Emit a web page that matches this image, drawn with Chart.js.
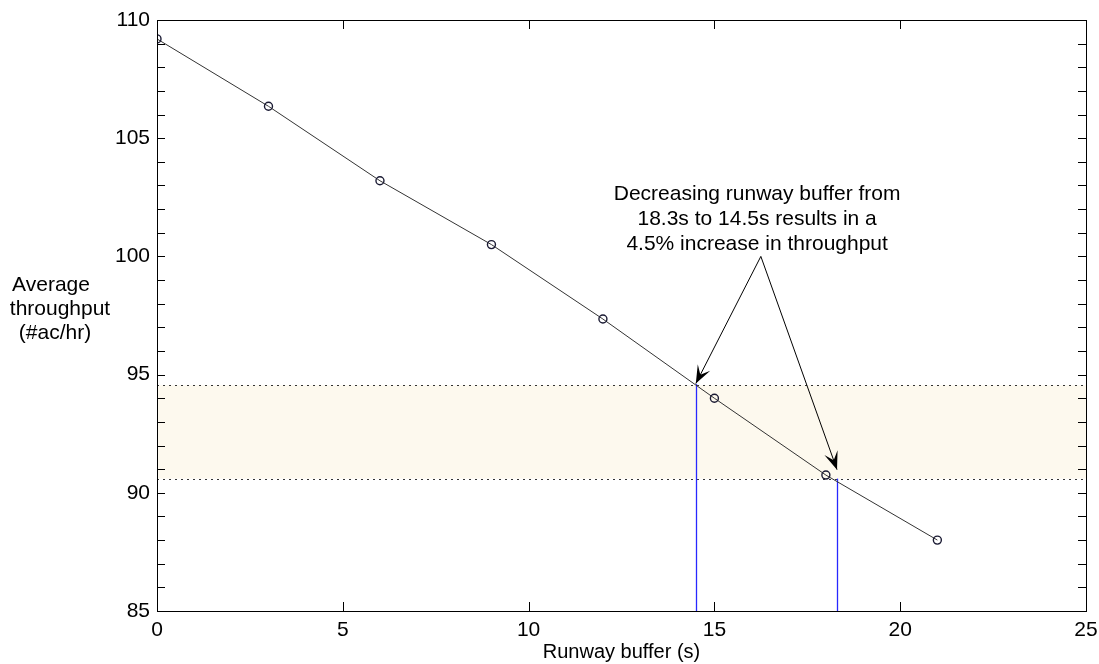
<!DOCTYPE html>
<html>
<head>
<meta charset="utf-8">
<script src="https://cdn.jsdelivr.net/npm/chart.js@4.4.1/dist/chart.umd.min.js"></script>
<style>
  html, body { margin: 0; padding: 0; background: #fff; }
</style>
</head>
<body>
<canvas id="myChart" width="1099" height="664"></canvas>
<script>
// data
var bufferSeconds = [0, 3, 6, 9, 12, 15, 18, 21];
var throughput = [109.2, 106.35, 103.2, 100.5, 97.35, 94.0, 90.75, 88.0];
var bandLow = 90.6;
var bandHigh = 94.55;
var markX = [14.5, 18.3];
var markY = [94.6, 90.6];
var xTicks = [0, 5, 10, 15, 20, 25];
var yTicks = [85, 90, 95, 100, 105, 110];
var noteLines = ['Decreasing runway buffer from', '18.3s to 14.5s results in a', '4.5% increase in throughput'];
var yLabelLines = ['Average', 'throughput', '(#ac/hr)'];

var FONT = '"Liberation Sans", Arial, sans-serif';

function arrow(ctx, x1, y1, x2, y2) {
    ctx.beginPath();
    ctx.moveTo(x1, y1);
    ctx.lineTo(x2, y2);
    ctx.stroke();
    var a = Math.atan2(y2 - y1, x2 - x1);
    var len = 18, w = 7;
    ctx.save();
    ctx.translate(x2, y2);
    ctx.rotate(a);
    ctx.beginPath();
    ctx.moveTo(0, 0);
    ctx.lineTo(-len, -w);
    ctx.lineTo(-len * 0.55, 0);
    ctx.lineTo(-len, w);
    ctx.closePath();
    ctx.fill();
    ctx.restore();
}

//background band, reference lines, frame and annotations
var extras = {
    id: 'extras',
    beforeDatasetsDraw: function(chart) {
        var ctx = chart.ctx, xs = chart.scales.x, ys = chart.scales.y, a = chart.chartArea;
        var yHi = ys.getPixelForValue(bandHigh), yLo = ys.getPixelForValue(bandLow);
        ctx.save();
        ctx.fillStyle = '#fdf9ee';
        ctx.fillRect(a.left, yHi, a.right - a.left, yLo - yHi);
        ctx.strokeStyle = '#333';
        ctx.lineWidth = 1;
        ctx.setLineDash([2, 4]);
        [yHi, yLo].forEach(function(y) {
            ctx.beginPath();
            ctx.moveTo(a.left, Math.round(y) + 0.5);
            ctx.lineTo(a.right, Math.round(y) + 0.5);
            ctx.stroke();
        });
        ctx.setLineDash([]);
        // blue drop lines
        ctx.lineWidth = 1.3;
        for (var i = 0; i < markX.length; i++) {
            var px = Math.round(xs.getPixelForValue(markX[i])) + 0.5;
            ctx.strokeStyle = 'rgb(40,40,255)';
            ctx.beginPath();
            ctx.moveTo(px, a.bottom);
            ctx.lineTo(px, ys.getPixelForValue(markY[i]));
            ctx.stroke();
        }
        ctx.restore();
    },
    afterDatasetsDraw: function(chart) {
        var ctx = chart.ctx, xs = chart.scales.x, ys = chart.scales.y, a = chart.chartArea;
        ctx.save();
        // frame
        ctx.strokeStyle = '#000';
        ctx.lineWidth = 1;
        ctx.strokeRect(a.left + 0.5, a.top + 0.5, a.right - a.left, a.bottom - a.top);
        // x ticks, inside, top and bottom
        ctx.beginPath();
        xTicks.forEach(function(v) {
            var px = Math.round(xs.getPixelForValue(v)) + 0.5;
            ctx.moveTo(px, a.bottom); ctx.lineTo(px, a.bottom - 9);
            ctx.moveTo(px, a.top); ctx.lineTo(px, a.top + 9);
        });
        // y ticks every unit, inside, left and right
        for (var v = 85; v <= 110; v++) {
            var py = Math.round(ys.getPixelForValue(v)) + 0.5;
            ctx.moveTo(a.left, py); ctx.lineTo(a.left + 8, py);
            ctx.moveTo(a.right, py); ctx.lineTo(a.right - 8, py);
        }
        ctx.stroke();

        // annotation text and arrows
        ctx.fillStyle = '#000';
        ctx.font = '21px ' + FONT;
        ctx.textAlign = 'center';
        ctx.textBaseline = 'middle';
        var tx = xs.getPixelForValue(16.15);
        var ty = ys.getPixelForValue(102.65);
        noteLines.forEach(function(s, i) { ctx.fillText(s, tx, ty + i * 25); });
        var ax = xs.getPixelForValue(16.25), ay = ys.getPixelForValue(100.0);
        ctx.strokeStyle = '#000';
        arrow(ctx, ax, ay, xs.getPixelForValue(14.5), ys.getPixelForValue(94.62));
        arrow(ctx, ax, ay, xs.getPixelForValue(18.3), ys.getPixelForValue(90.98));

        // y axis label, horizontal
        var lx = [51, 60, 55];
        yLabelLines.forEach(function(s, i) { ctx.fillText(s, lx[i], 285 + i * 24); });
        ctx.restore();
    }
};

var ctx = document.getElementById('myChart').getContext('2d');
var points = bufferSeconds.map(function(x, i) { return { x: x, y: throughput[i] }; });

var myChart = new Chart(ctx, {
    type: 'scatter',
    data: {
        datasets: [{
            data: points,
            showLine: true,
            borderColor: '#333',
            borderWidth: 1,
            pointRadius: 4,
            pointBorderWidth: 1.4,
            pointBackgroundColor: 'rgba(0,0,0,0)',
            pointBorderColor: '#1a1a33'
        }]
    },
    options: {
        responsive: false,
        animation: false,
        devicePixelRatio: 1,
        layout: { padding: { top: 20, right: 13, left: 0, bottom: 0 } },
        plugins: { legend: { display: false }, tooltip: { enabled: false } },
        scales: {
            x: {
                type: 'linear', min: 0, max: 25,
                grid: { display: false, drawTicks: false },
                border: { display: false },
                ticks: { stepSize: 5, color: '#000', font: { size: 21, family: FONT }, padding: 7, maxRotation: 0 },
                title: { display: true, text: 'Runway buffer (s)', color: '#000', font: { size: 20, family: FONT }, padding: { top: 0, bottom: 0 } },
                afterFit: function(scale) {
                    scale.height = 53;
                    scale.paddingLeft = 0;
                    scale.paddingRight = 0;
                }
            },
            y: {
                min: 85, max: 110,
                grid: { display: false, drawTicks: false },
                border: { display: false },
                ticks: { stepSize: 5, color: '#000', font: { size: 21, family: FONT }, padding: 7 },
                afterFit: function(scale) {
                    scale.width = 157;
                    scale.paddingTop = 0;
                    scale.paddingBottom = 0;
                }
            }
        }
    },
    plugins: [extras]
});
</script>
</body>
</html>
